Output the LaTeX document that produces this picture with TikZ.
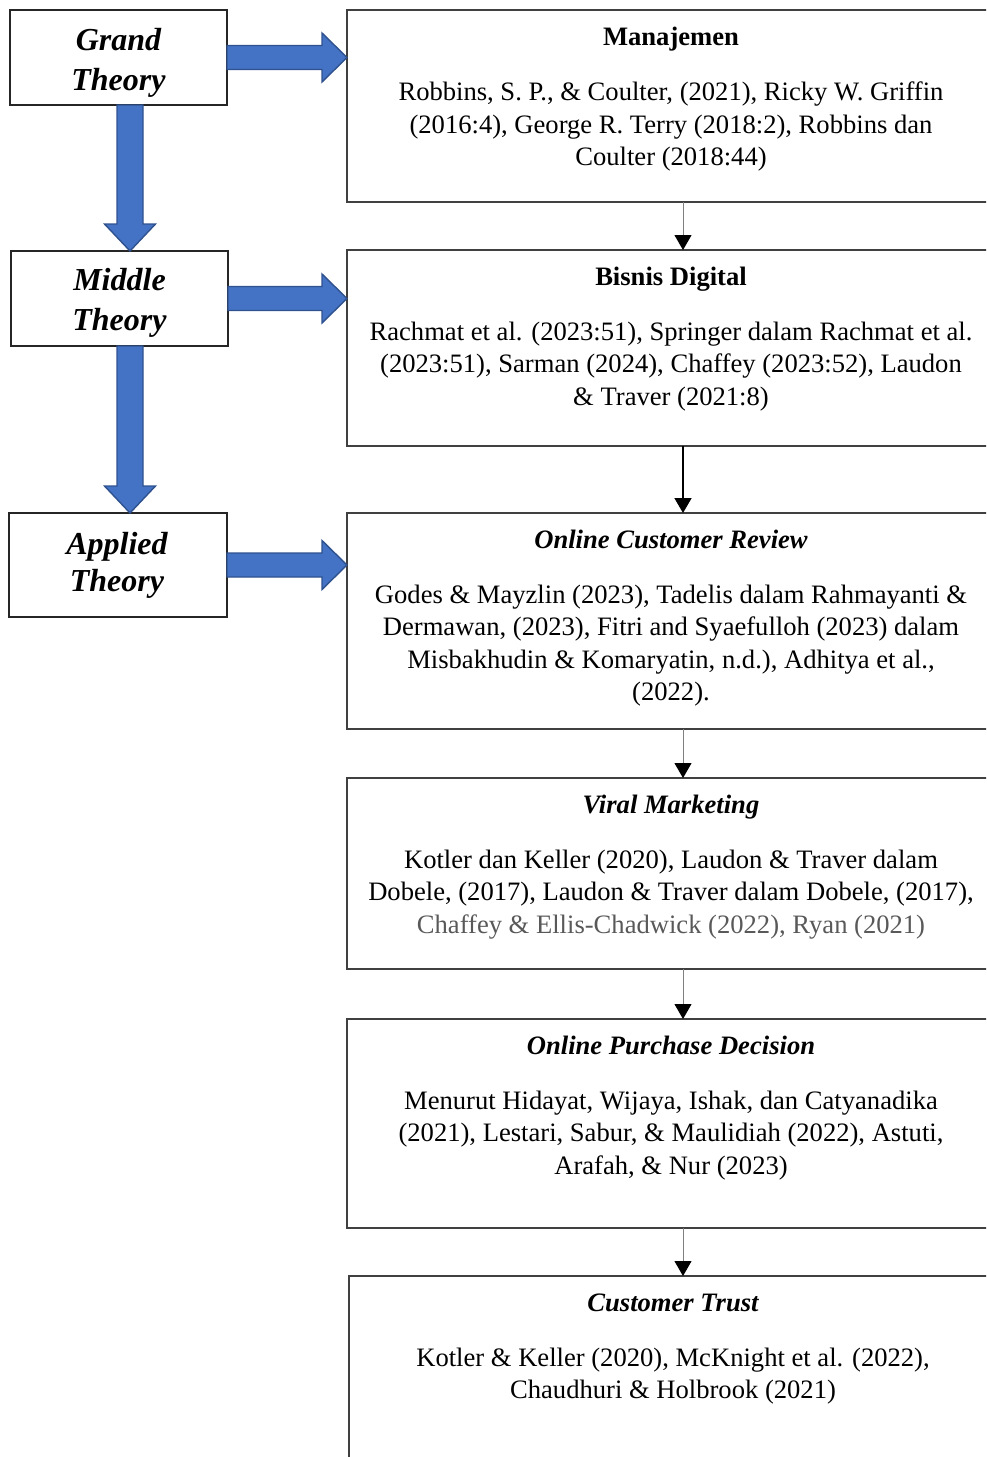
\documentclass[tikz,border=0pt]{standalone}
\usepackage{fontspec}
\setmainfont{Liberation Serif}
\usetikzlibrary{arrows.meta,calc}
\newcommand{\pxsize}{0.5pt}
\definecolor{blockblue}{HTML}{4472C4}
\definecolor{blockedge}{HTML}{2F528F}
\definecolor{citegray}{HTML}{595959}

% block arrows between the theory boxes and towards the reference boxes
\newcommand{\downblock}[2]{%
\draw[blockarrow] ($(#1)+(-13,0)$) -- ($(#2)+(-13,-27)$) -- ($(#2)+(-25.5,-27)$) -- (#2)
  -- ($(#2)+(25.5,-27)$) -- ($(#2)+(13,-27)$) -- ($(#1)+(13,0)$) -- cycle;}
\newcommand{\rightblock}[2]{%
\draw[blockarrow] ($(#1)+(0,-12)$) -- ($(#2)+(-25,-12)$) -- ($(#2)+(-25,-24.5)$) -- (#2)
  -- ($(#2)+(-25,24.5)$) -- ($(#2)+(-25,12)$) -- ($(#1)+(0,12)$) -- cycle;}

\tikzset{
  theorybox/.style={draw=black!85, line width=0.6pt, fill=white, inner sep=0pt, outer sep=0pt,
    anchor=north west},
  theorytext/.style={align=center, inner sep=0pt, font=\fontsize{16}{20}\selectfont\bfseries\itshape},
  refbox/.style={draw=black!75, line width=0.7pt, inner sep=0pt, outer sep=0pt,
    anchor=north west, minimum width=648*\pxsize},
  reftitle/.style={font=\fontsize{13.3}{16.25}\selectfont\bfseries, anchor=base, inner sep=0pt},
  refbody/.style={font=\fontsize{13.3}{16.25}\selectfont, align=center, anchor=north, inner sep=0pt},
  blockarrow/.style={fill=blockblue, draw=blockedge, line width=0.7pt, line join=miter},
  flow/.style={draw=black!50, line width=0.5pt, -{Triangle[width=8.5pt,length=7.5pt,color=black]}}
}

\begin{document}
\begin{tikzpicture}[x=\pxsize, y=-\pxsize]
\clip (0,0) rectangle (986,1457);

% theory levels
\node[theorybox, minimum width=217*\pxsize, minimum height=95*\pxsize] (grand) at (10,10) {};
\node[theorybox, minimum width=217*\pxsize, minimum height=95*\pxsize] (middle) at (11,251) {};
\node[theorybox, minimum width=218*\pxsize, minimum height=104*\pxsize] (applied) at (9,513) {};
\node[theorytext] (grand text) at ($(grand.center)+(0,5)$) {Grand\\Theory};
\node[theorytext] (middle text) at ($(middle.center)+(0,4)$) {Middle\\Theory};
\node[theorytext, font=\fontsize{16}{18.5}\selectfont\bfseries\itshape] (applied text) at ($(applied.center)+(-1,0)$) {Applied\\Theory};

% reference boxes
\node[refbox, minimum height=192*\pxsize] (mgmt) at (347,10) {};
\node[refbox, minimum height=196*\pxsize] (digital) at (347,250) {};
\node[refbox, minimum height=216*\pxsize] (ocr) at (347,513) {};
\node[refbox, minimum height=191*\pxsize] (viral) at (347,778) {};
\node[refbox, minimum height=209*\pxsize] (opd) at (347,1019) {};
\node[refbox, minimum height=220*\pxsize] (trust) at (349,1276) {};

\node[reftitle] (mgmt title) at ($(mgmt.north)+(0,35.5)$) {Manajemen};
\node[refbody] (mgmt body) at ($(mgmt.north)+(0,71.5)$) {Robbins, S. P., \& Coulter, (2021), Ricky W. Griffin\\(2016:4), George R. Terry (2018:2), Robbins dan\\Coulter (2018:44)};

\node[reftitle] (digital title) at ($(digital.north)+(0,35.5)$) {Bisnis Digital};
\node[refbody] (digital body) at ($(digital.north)+(0,71.5)$) {Rachmat et al. (2023:51), Springer dalam Rachmat et al.\\(2023:51), Sarman (2024), Chaffey (2023:52), Laudon\\\& Traver (2021:8)};

\node[reftitle] (ocr title) at ($(ocr.north)+(0,35.5)$) {\itshape Online Customer Review};
\node[refbody] (ocr body) at ($(ocr.north)+(0,71.5)$) {Godes \& Mayzlin (2023), Tadelis dalam Rahmayanti \&\\Dermawan, (2023), Fitri and Syaefulloh (2023) dalam\\Misbakhudin \& Komaryatin, n.d.), Adhitya et al.,\\(2022).};

\node[reftitle] (viral title) at ($(viral.north)+(0,35.5)$) {\itshape Viral Marketing};
\node[refbody] (viral body) at ($(viral.north)+(0,71.5)$) {Kotler dan Keller (2020), Laudon \& Traver dalam\\Dobele, (2017), Laudon \& Traver dalam Dobele, (2017),\\\textcolor{citegray}{Chaffey \& Ellis-Chadwick (2022), Ryan (2021)}};

\node[reftitle] (opd title) at ($(opd.north)+(0,35.5)$) {\itshape Online Purchase Decision};
\node[refbody] (opd body) at ($(opd.north)+(0,71.5)$) {Menurut Hidayat, Wijaya, Ishak, dan Catyanadika\\(2021), Lestari, Sabur, \& Maulidiah (2022), Astuti,\\Arafah, \& Nur (2023)};

\node[reftitle] (trust title) at ($(trust.north)+(0,35.5)$) {\itshape Customer Trust};
\node[refbody] (trust body) at ($(trust.north)+(0,71.5)$) {Kotler \& Keller (2020), McKnight et al. (2022),\\Chaudhuri \& Holbrook (2021)};

% flow between reference boxes
\draw[flow] ($(mgmt.south)+(12,0)$) -- ($(digital.north)+(12,0)$);
\draw[flow, draw=black, line width=0.8pt] ($(digital.south)+(12,0)$) -- ($(ocr.north)+(12,0)$);
\draw[flow] ($(ocr.south)+(12,0)$) -- ($(viral.north)+(12,0)$);
\draw[flow] ($(viral.south)+(12,0)$) -- ($(opd.north)+(12,0)$);
\draw[flow] ($(opd.south)+(12,0)$) -- ($(trust.north)+(10,0)$);

% block arrows
\coordinate (gm top) at ($(grand.south west)+(120,0)$);
\coordinate (ma top) at ($(middle.south west)+(119,0)$);
\downblock{gm top}{gm top |- middle.north}
\downblock{ma top}{ma top |- applied.north}
\rightblock{grand.east}{mgmt.west |- grand.east}
\rightblock{middle.east}{digital.west |- middle.east}
\rightblock{applied.east}{ocr.west |- applied.east}
\end{tikzpicture}
\end{document}
